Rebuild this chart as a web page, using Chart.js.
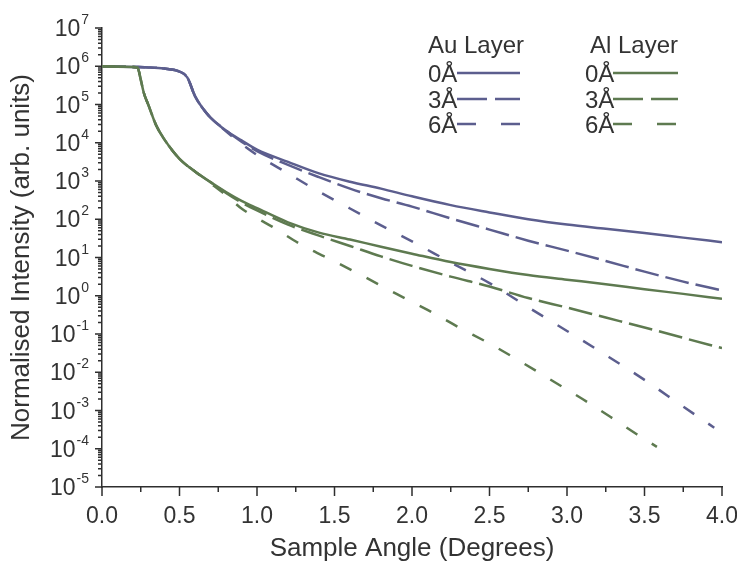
<!DOCTYPE html>
<html>
<head>
<meta charset="utf-8">
<script src="https://cdn.jsdelivr.net/npm/chart.js@4.4.0/dist/chart.umd.min.js"></script>
<style>
  html, body { margin: 0; padding: 0; background: #fff; }
</style>
</head>
<body>
<canvas id="myChart" width="737" height="566"></canvas>
<script>
// angles (degrees) and intensities
const auAngles = [0, 0.2, 0.3, 0.4, 0.5, 0.55, 0.6, 0.65, 0.7, 0.8, 0.9, 1.0, 1.2, 1.4, 1.6, 1.8, 2.0, 2.25, 2.5, 2.75, 3.0, 3.25, 3.5, 3.75, 4.0];
const au0 = [1e6, 9.55e5, 9.33e5, 8.71e5, 7.24e5, 5.13e5, 1.66e5, 7.94e4, 4.57e4, 2.09e4, 1.15e4, 6.61e3, 3.16e3, 1.58e3, 955, 631, 398, 234, 151, 100, 72.4, 56.2, 43.7, 33.1, 25.1];
const au3 = [1e6, 9.55e5, 9.33e5, 8.71e5, 7.24e5, 5.13e5, 1.66e5, 7.94e4, 4.57e4, 2.09e4, 1.07e4, 6.03e3, 2.63e3, 1.26e3, 631, 355, 214, 105, 53.7, 27.5, 15.1, 8.13, 4.27, 2.34, 1.38];

const au6Angles = [0, 0.2, 0.3, 0.4, 0.5, 0.55, 0.6, 0.65, 0.7, 0.8, 0.9, 1.0, 1.2, 1.4, 1.6, 1.8, 2.0, 2.25, 2.5, 2.75, 3.0, 3.25, 3.5, 3.75, 3.95];
const au6 = [1e6, 9.55e5, 9.33e5, 8.71e5, 7.24e5, 5.13e5, 1.66e5, 7.94e4, 4.47e4, 2.0e4, 9.33e3, 4.79e3, 1.58e3, 525, 191, 69.2, 26.3, 7.41, 2.14, 0.501, 0.12, 0.0282, 6.31e-3, 1.26e-3, 3.55e-4];

const alAngles = [0, 0.2, 0.23, 0.25, 0.27, 0.3, 0.35, 0.4, 0.5, 0.6, 0.7, 0.8, 0.9, 1.0, 1.2, 1.4, 1.6, 1.8, 2.0, 2.25, 2.5, 2.75, 3.0, 3.25, 3.5, 3.75, 4.0];
const al0 = [1e6, 9.55e5, 9.12e5, 4.47e5, 2.0e5, 9.55e4, 2.82e4, 1.26e4, 3.8e3, 1.78e3, 933, 513, 302, 195, 83.2, 44.7, 29.5, 19.1, 12.6, 7.59, 5.01, 3.47, 2.63, 2.0, 1.48, 1.12, 0.832];
const al3 = [1e6, 9.55e5, 9.12e5, 4.47e5, 2.0e5, 9.55e4, 2.82e4, 1.26e4, 3.8e3, 1.78e3, 933, 490, 275, 170, 72.4, 37.2, 20.0, 10.7, 6.03, 3.16, 1.74, 0.871, 0.49, 0.269, 0.148, 0.0794, 0.0427];

const al6Angles = [0, 0.2, 0.23, 0.25, 0.27, 0.3, 0.35, 0.4, 0.5, 0.6, 0.7, 0.8, 0.9, 1.0, 1.1, 1.3, 1.5, 1.7, 1.9, 2.1, 2.3, 2.5, 2.7, 2.9, 3.1, 3.3, 3.45, 3.58];
const al6 = [1e6, 9.55e5, 9.12e5, 4.47e5, 2.0e5, 9.55e4, 2.82e4, 1.26e4, 3.8e3, 1.78e3, 871, 427, 191, 107, 63.1, 20.0, 7.94, 3.02, 1.12, 0.427, 0.151, 0.0562, 0.0191, 6.17e-3, 2.0e-3, 6.03e-4, 2.4e-4, 1.12e-4];

// axis ticks
const yMajorTicks = [1e7, 1e6, 1e5, 1e4, 1e3, 1e2, 1e1, 1e0, 1e-1, 1e-2, 1e-3, 1e-4, 1e-5];
const yExponents = ['7', '6', '5', '4', '3', '2', '1', '0', '-1', '-2', '-3', '-4', '-5'];
const xMajorTicks = [0, 0.5, 1.0, 1.5, 2.0, 2.5, 3.0, 3.5, 4.0];
const xMinorTicks = [0.25, 0.75, 1.25, 1.75, 2.25, 2.75, 3.25, 3.75];

const legendHeaders = ['Au Layer', 'Al Layer'];
const legendRows = ['0Å', '3Å', '6Å'];

const auColor = '#5c5e8e';
const alColor = '#5e7a50';
const axisColor = '#2e2e2e';
const textColor = '#333333';
const fontFam = '"Liberation Sans", Arial, sans-serif';

function pts(xs, ys) {
  return xs.map((a, i) => ({x: a, y: ys[i]}));
}

function serie(label, xs, ys, color, dash, order) {
  return {
    label,
    data: pts(xs, ys),
    borderColor: color,
    backgroundColor: color,
    borderWidth: 2.5,
    borderDash: dash,
    pointRadius: 0,
    fill: false,
    cubicInterpolationMode: 'monotone',
    order
  };
}

const datasets = [
  serie('Au 0Å', auAngles, au0, auColor, [], 2),
  serie('Au 3Å', auAngles, au3, auColor, [24, 7], 2),
  serie('Au 6Å', au6Angles, au6, auColor, [13, 17], 2),
  serie('Al 0Å', alAngles, al0, alColor, [], 1),
  serie('Al 3Å', alAngles, al3, alColor, [24, 7], 1),
  serie('Al 6Å', al6Angles, al6, alColor, [13, 17], 1)
];

// extra ticks, superscript y labels and the two-column legend
const extras = {
  id: 'extras',
  afterDraw(chart) {
    const {ctx, scales: {x, y}, chartArea} = chart;
    ctx.save();
    ctx.strokeStyle = axisColor;
    ctx.lineWidth = 1.5;
    ctx.beginPath();
    const left = chartArea.left, bottom = chartArea.bottom;
    yMajorTicks.forEach(v => {
      const py = y.getPixelForValue(v);
      ctx.moveTo(left - 7, py); ctx.lineTo(left, py);
    });
    for (let i = 1; i < yMajorTicks.length; i++) {
      const d = yMajorTicks[i];
      for (let k = 2; k <= 9; k++) {
        const py = y.getPixelForValue(k * d);
        ctx.moveTo(left - 4, py); ctx.lineTo(left, py);
      }
    }
    xMajorTicks.forEach(v => {
      const px = x.getPixelForValue(v);
      ctx.moveTo(px, bottom); ctx.lineTo(px, bottom + 9);
    });
    xMinorTicks.forEach(v => {
      const px = x.getPixelForValue(v);
      ctx.moveTo(px, bottom); ctx.lineTo(px, bottom + 5);
    });
    ctx.stroke();

    // y labels as 10 with a raised exponent
    ctx.fillStyle = textColor;
    ctx.textBaseline = 'alphabetic';
    ctx.textAlign = 'left';
    yMajorTicks.forEach((v, i) => {
      const py = y.getPixelForValue(v);
      ctx.font = '23px ' + fontFam;
      const wBase = ctx.measureText('10').width;
      ctx.font = '14px ' + fontFam;
      const wExp = ctx.measureText(yExponents[i]).width;
      const x0 = left - 14 - wExp - wBase;
      ctx.font = '23px ' + fontFam;
      ctx.fillText('10', x0, py + 8.2);
      ctx.font = '14px ' + fontFam;
      ctx.fillText(yExponents[i], x0 + wBase + 1, py - 4);
    });

    // legend
    const cols = [
      {head: 428, text: 428, line: [457, 520], color: auColor},
      {head: 590, text: 585, line: [613, 678], color: alColor}
    ];
    const rowY = [73, 99, 124];
    const rowDash = [[], [30, 8], [19, 25]];
    ctx.font = '24px ' + fontFam;
    cols.forEach((c, ci) => {
      ctx.fillStyle = textColor;
      ctx.fillText(legendHeaders[ci], c.head, 53);
      legendRows.forEach((r, ri) => {
        ctx.fillStyle = textColor;
        ctx.fillText(r, c.text, rowY[ri] + 8.6);
        ctx.strokeStyle = c.color;
        ctx.lineWidth = 2.5;
        ctx.setLineDash(rowDash[ri]);
        ctx.beginPath();
        ctx.moveTo(c.line[0], rowY[ri]);
        ctx.lineTo(c.line[1], rowY[ri]);
        ctx.stroke();
      });
    });
    ctx.restore();
  }
};

new Chart(document.getElementById('myChart').getContext('2d'), {
  type: 'line',
  data: { datasets },
  plugins: [extras],
  options: {
    responsive: false,
    animation: false,
    devicePixelRatio: 1,
    layout: { padding: { top: 28, right: 0, left: 0, bottom: 0 } },
    plugins: { legend: { display: false }, tooltip: { enabled: false } },
    scales: {
      x: {
        type: 'linear',
        min: 0,
        max: 4,
        afterFit: s => { s.height = 79; s.paddingRight = 15; s.paddingLeft = 0; },
        grid: { display: false, drawTicks: false },
        border: { display: true, color: axisColor, width: 1.5 },
        ticks: {
          stepSize: 0.5,
          autoSkip: false,
          maxRotation: 0,
          padding: 16,
          color: textColor,
          font: { family: fontFam, size: 23 },
          callback: v => Number(v).toFixed(1)
        },
        title: {
          display: true,
          text: 'Sample Angle (Degrees)',
          color: textColor,
          font: { family: fontFam, size: 26 },
          padding: { top: 0, bottom: 2 }
        }
      },
      y: {
        type: 'logarithmic',
        min: 1e-5,
        max: 1e7,
        afterFit: s => { s.width = 102; },
        grid: { display: false, drawTicks: false },
        border: { display: true, color: axisColor, width: 1.5 },
        ticks: { display: false },
        title: {
          display: true,
          text: 'Normalised Intensity (arb. units)',
          color: textColor,
          font: { family: fontFam, size: 26 },
          padding: { top: 6, bottom: 0 }
        }
      }
    }
  }
});
</script>
</body>
</html>
